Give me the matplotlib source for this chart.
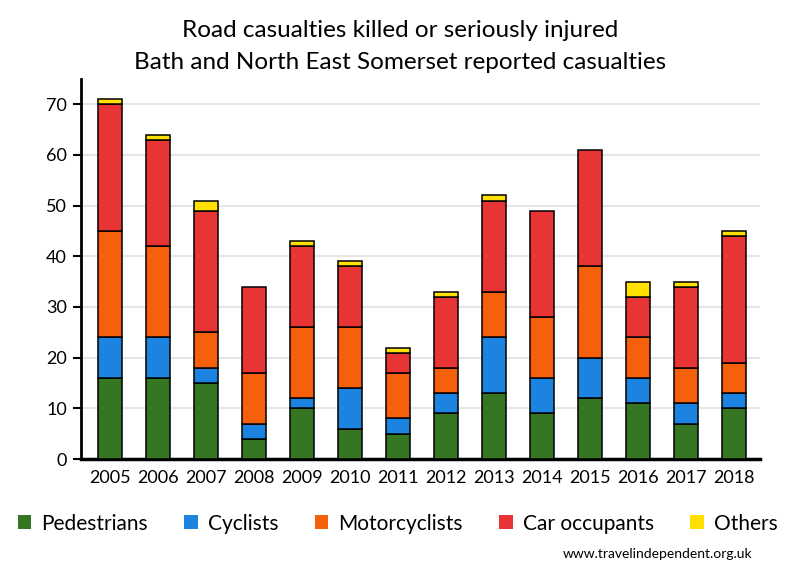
import matplotlib
matplotlib.use("Agg")
import matplotlib.pyplot as plt
from matplotlib.patches import Patch
import numpy as np

years = ["2005", "2006", "2007", "2008", "2009", "2010", "2011",
         "2012", "2013", "2014", "2015", "2016", "2017", "2018"]
pedestrians = [16, 16, 15, 4, 10, 6, 5, 9, 13, 9, 12, 11, 7, 10]
cyclists = [8, 8, 3, 3, 2, 8, 3, 4, 11, 7, 8, 5, 4, 3]
motorcyclists = [21, 18, 7, 10, 14, 12, 9, 5, 9, 12, 18, 8, 7, 6]
car_occupants = [25, 21, 24, 17, 16, 12, 4, 14, 18, 21, 23, 8, 16, 25]
others = [1, 1, 2, 0, 1, 1, 1, 1, 1, 0, 0, 3, 1, 1]

series = [
    ("Pedestrians", pedestrians, "#367521"),
    ("Cyclists", cyclists, "#1c84e0"),
    ("Motorcyclists", motorcyclists, "#f5600a"),
    ("Car occupants", car_occupants, "#e83434"),
    ("Others", others, "#ffe000"),
]

plt.rcParams["font.family"] = ["Lato", "DejaVu Sans"]

fig = plt.figure(figsize=(8, 5.8), dpi=100)
ax = fig.add_axes([0.101, 0.2086, 0.849, 0.6554])

x = np.arange(len(years))
bottom = np.zeros(len(years))
for name, vals, col in series:
    vals = np.array(vals, dtype=float)
    mask = vals > 0
    ax.bar(x[mask], vals[mask], 0.5, bottom=bottom[mask], color=col,
           edgecolor="black", linewidth=1.1, zorder=3)
    bottom += vals

ax.set_xlim(-0.6, 13.55)
ax.set_ylim(0, 75)
ax.set_yticks(range(0, 71, 10))
ax.set_xticks(x)
ax.set_xticklabels(years)
ax.tick_params(axis="x", length=0, pad=8, labelsize=13)
ax.tick_params(axis="y", length=6, width=1.5, pad=4, labelsize=13)
ax.yaxis.grid(True, color="#e6e6e6", linewidth=1.5, zorder=0)
ax.set_axisbelow(True)
for s in ["top", "right"]:
    ax.spines[s].set_visible(False)
ax.spines["left"].set_linewidth(2)
ax.spines["bottom"].set_linewidth(2.5)

fig.text(0.5, 0.948, "Road casualties killed or seriously injured",
         ha="center", va="center", fontsize=17.5)
fig.text(0.5, 0.893, "Bath and North East Somerset reported casualties",
         ha="center", va="center", fontsize=17.5)

handles = [Patch(facecolor=c, edgecolor="none", label=n) for n, _, c in series]
fig.legend(handles=handles, loc="center", bbox_to_anchor=(0.497, 0.097),
           ncol=5, frameon=False, fontsize=15, handlelength=0.65,
           handleheight=0.65, handletextpad=0.48, columnspacing=1.75)

fig.text(0.94, 0.045, "www.travelindependent.org.uk", ha="right",
         va="center", fontsize=10)

fig.savefig("out.png", dpi=100)
